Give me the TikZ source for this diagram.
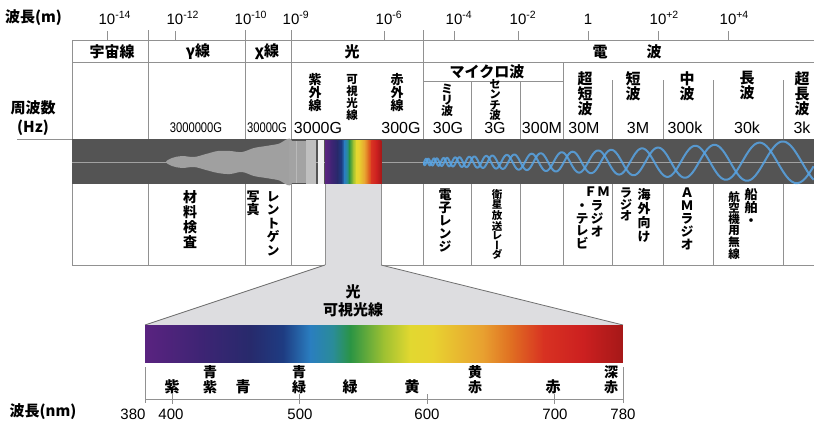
\documentclass[tikz,border=0pt]{standalone}
\usepackage{fontspec}
\setmainfont{Liberation Sans}
\newfontfamily\jp{Noto Sans CJK JP}
\newfontfamily\jpv{Noto Sans CJK JP}[RawFeature=+vert]

\definecolor{rulegray}{RGB}{145,145,145}
\definecolor{edgegray}{RGB}{112,112,112}
\definecolor{bandgray}{RGB}{84,84,84}
\definecolor{flamegray}{RGB}{160,160,160}
\definecolor{funnelgray}{RGB}{221,221,224}
\definecolor{wavecol}{RGB}{88,164,228}
% spectrum stops
\definecolor{c0}{HTML}{5A2380}
\definecolor{c1}{HTML}{3E2474}
\definecolor{c2}{HTML}{272A6C}
\definecolor{c3}{HTML}{1E3C82}
\definecolor{c4}{HTML}{2A7EC0}
\definecolor{c5}{HTML}{2A8C98}
\definecolor{c6}{HTML}{2A9444}
\definecolor{c7}{HTML}{9CC032}
\definecolor{c8}{HTML}{E2D830}
\definecolor{c9}{HTML}{E8D230}
\definecolor{c10}{HTML}{E8A030}
\definecolor{c11}{HTML}{E07022}
\definecolor{c12}{HTML}{D83222}
\definecolor{c13}{HTML}{CC2020}
\definecolor{c14}{HTML}{A51818}

\newcommand{\ex}[1]{10\rlap{\textsuperscript{#1}}}
% rainbow bar: left x, top y, width, height
\newcommand{\rainbow}[4]{%
  \foreach \ta/\tb/\ca/\cb in {0/0.115/c0/c1, 0.115/0.22/c1/c2, 0.22/0.289/c2/c3,
      0.289/0.345/c3/c4, 0.345/0.393/c4/c5, 0.393/0.429/c5/c6, 0.429/0.498/c6/c7,
      0.498/0.554/c7/c8, 0.554/0.603/c8/c9, 0.603/0.707/c9/c10, 0.707/0.764/c10/c11,
      0.764/0.833/c11/c12, 0.833/0.916/c12/c13, 0.916/0.999/c13/c14}
    \shade[left color=\ca, right color=\cb] ({#1+\ta*#3},#2) rectangle ({#1+\tb*#3+0.4},{#2+#4});}

\tikzset{
  rulel/.style={draw=rulegray, line width=0.8pt},
  lbl/.style={inner sep=0pt, font=\jp\bfseries\fontsize{15}{18}\selectfont},
  num/.style={inner sep=0pt, font=\fontsize{15}{18}\selectfont},
  tate/.style 2 args={inner sep=0pt, anchor=north, align=center,
    font=\jpv\bfseries\fontsize{#1}{#2}\selectfont}
}

\begin{document}
\begin{tikzpicture}[x=1pt, y=-1pt]
\useasboundingbox (0,0) rectangle (814,423);

% wavelength scale on top
\node[lbl, anchor=west] (wlm) at (5,18) {波長(m)};
\foreach \x/\e [count=\i] in {107/-14, 175/-12, 243/-10, 291/-9, 384/-6, 454/-4, 518/-2, 658/+2, 728/+4}
  \node[num, anchor=base] (exp\i) at (\x,24) {\ex{\e}};
\node[num, anchor=base] (exp0) at (588,24) {1};
\foreach \x in {107,175,384,454,518,588,658,728}
  \draw[rulel] (\x,31) -- (\x,40);

% table lines
\draw[rulel] (72,40) -- (814,40);
\draw[rulel] (72,62) -- (814,62);
\draw[rulel] (423,81) -- (563,81);
\draw[rulel] (72,40) -- (72,265);
\foreach \x in {148,245,291,423}
  \draw[rulel] (\x,30) -- (\x,265);
\draw[rulel] (563,62) -- (563,265);
\foreach \x in {471,520}
  \draw[rulel] (\x,81) -- (\x,265);
\foreach \x in {612,663,713,783}
  \draw[rulel] (\x,80) -- (\x,265);
\draw[rulel] (72,265) -- (325,265);
\draw[rulel] (381,265) -- (814,265);
\draw[rulel] (17,139) -- (72,139);

% header row
\node[lbl] (cosmic) at (112,52) {宇宙線};
\node[lbl] (gamma) at (198,52) {γ線};
\node[lbl] (xray) at (267,52) {χ線};
\node[lbl] (light) at (352,52) {光};
\node[lbl] (radio) at (627,52) {電\hspace{2.6em}波};
\node[lbl] (micro) at (487,72) {マイクロ波};
\node[lbl] (freq) at (33,108) {周波数};
\node[lbl] (hz) at (33,128) {(Hz)};

% names above the band
\node[tate={13}{13.3}] (uv) at (315,73) {紫\\外\\線};
\node[tate={11.5}{10.5}] (vis) at (352,74) {可\\視\\光\\線};
\node[tate={13}{13.3}] (ir) at (397,73) {赤\\外\\線};
\node[tate={12}{11}] (mm) at (447,84) {ミ\\リ\\波};
\node[tate={11.5}{10.5}] (cm) at (495,79) {セ\\ン\\チ\\波};
\node[tate={15}{15.3}] (vhf) at (585,71) {超\\短\\波};
\node[tate={15}{15.3}] (hf) at (633,71) {短\\波};
\node[tate={15}{15.3}] (mf) at (687,71) {中\\波};
\node[tate={15}{15.3}] (lf) at (747,71) {長\\波};
\node[tate={15}{15.3}] (vlf) at (802,71) {超\\長\\波};

% frequencies
\node[num, font=\fontsize{14}{16}\selectfont, xscale=0.8] (f1) at (196,128) {3000000G};
\node[num, font=\fontsize{14}{16}\selectfont, xscale=0.8] (f2) at (267,128) {30000G};
\foreach \x/\f [count=\i from 3] in {318/3000G, 401/300G, 448/30G, 495/3G, 542/300M, 584/30M,
    638/3M, 685/300k, 747/30k, 802/3k}
  \node[num, font=\fontsize{16}{18}\selectfont] (f\i) at (\x,128) {\f};

% the band
\fill[bandgray] (72,139) rectangle (814,184);
\draw[bandgray!55!white, line width=0.8pt] (72,162) -- (814,162);
\fill[flamegray] plot[smooth cycle, tension=0.6] coordinates {
  (166,162) (172,158) (182,156) (194,157) (206,154) (218,151) (230,151) (242,152)
  (254,148) (266,146) (278,144) (292,141) (292,183) (278,180) (266,178) (254,176)
  (242,172) (230,174) (218,173) (206,170) (194,167) (182,168) (172,166)};
\fill[gray!72] (289,141) rectangle (306,183);
\draw[gray!55, line width=0.6pt] (296,141) -- (296,183);
\fill[gray!50] (306,140) rectangle (316,184);
\fill[gray!12] (318,140) rectangle (324,184);
\rainbow{325}{140}{56}{44}
\begin{scope}
  \clip (423,139) rectangle (814,184);
  \foreach \p in {0,115}
    \draw[wavecol, line width=2pt, opacity=0.85] plot[domain=0:1, samples=700, variable=\t]
      ({423+391*\t}, {162+(3+19*\t)*sin(1895*ln(1+11.17*\t)+\p)});
\end{scope}

% uses below the band
\node[tate={14}{15}] (test) at (190,190) {材\\料\\検\\査};
\node[tate={13}{13}] (photo) at (253,191) {写\\真};
\node[tate={13}{13.6}] (xr) at (273,191) {レ\\ン\\ト\\ゲ\\ン};
\node[tate={13}{12.8}] (oven) at (445,189) {電\\子\\レ\\ン\\ジ};
\node[tate={10.5}{9.3}] (radar) at (497,189) {衛\\星\\放\\送\\レ\\ー\\ダ};
\node[tate={13}{13.3}] (fm) at (597,187) {ＦＭ\\ラ\\ジ\\オ};
\node[tate={13}{12.5}] (tv) at (582,204) {・\\テ\\レ\\ビ};
\node[tate={13}{14}] (sw) at (644,188) {海\\外\\向\\け};
\node[tate={12.5}{11.5}] (swr) at (626,188) {ラ\\ジ\\オ};
\node[tate={13}{12.8}] (am) at (687,188) {Ａ\\Ｍ\\ラ\\ジ\\オ};
\node[tate={13}{13}] (ship) at (751,188) {船\\舶\\・};
\node[tate={11.5}{10.8}] (air) at (734,191) {航\\空\\機\\用\\無\\線};

% visible light enlarged
\fill[funnelgray] (325,184) -- (325,265) -- (145,325) -- (623,325) -- (381,265) -- (381,184) -- cycle;
\draw[rulel] (325,184) -- (325,265);
\draw[rulel] (381,184) -- (381,265);
\draw[edgegray, line width=0.8pt] (325,265) -- (145,325);
\draw[edgegray, line width=0.8pt] (381,265) -- (623,325);
\node[lbl] (vl1) at (353,292) {光};
\node[lbl] (vl2) at (353,310) {可視光線};
\rainbow{145}{325}{478}{37}

% nm axis
\draw[rulel] (145,367) -- (145,403);
\draw[rulel] (623,367) -- (623,403);
\draw[rulel] (145,399) -- (623,399);
\foreach \x in {172,299,427,554}
  \draw[rulel] (\x,394) -- (\x,404);
\node[lbl] (c1) at (172,387) {紫};
\node[lbl, align=center, font=\jp\bfseries\fontsize{14}{15}\selectfont] (c2) at (210,380) {青\\紫};
\node[lbl] (c3) at (243,387) {青};
\node[lbl, align=center, font=\jp\bfseries\fontsize{14}{15}\selectfont] (c4) at (299,380) {青\\緑};
\node[lbl] (c5) at (350,387) {緑};
\node[lbl] (c6) at (412,387) {黄};
\node[lbl, align=center, font=\jp\bfseries\fontsize{14}{15}\selectfont] (c7) at (475,380) {黄\\赤};
\node[lbl] (c8) at (553,387) {赤};
\node[lbl, align=center, font=\jp\bfseries\fontsize{14}{15}\selectfont] (c9) at (611,380) {深\\赤};

\node[lbl] (wlnm) at (43,412) {波長(nm)};
\foreach \x/\n [count=\i] in {133/380, 171/400, 300/500, 427/600, 555/700, 623/780}
  \node[num] (nm\i) at (\x,414) {\n};
\end{tikzpicture}
\end{document}
